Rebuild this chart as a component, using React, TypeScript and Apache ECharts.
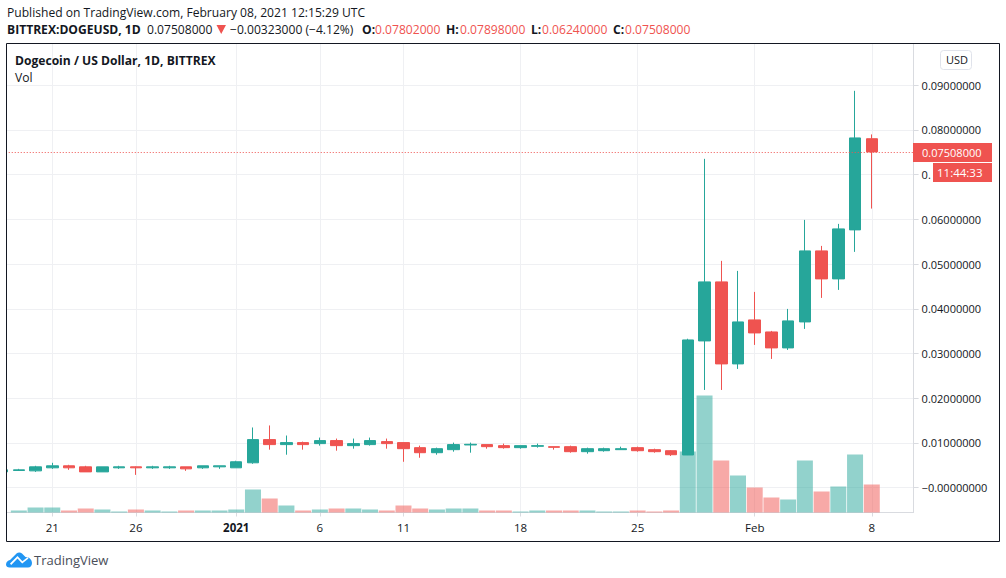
import React, { useEffect, useRef } from "react";
import * as echarts from "echarts";

const FONT = '"Open Sans", sans-serif';
const TEAL = "#26a69a";
const RED = "#ef5350";
const INK = "#131722";

const categories = [
  "Dec 18","Dec 19","Dec 20","Dec 21","Dec 22","Dec 23","Dec 24","Dec 25","Dec 26","Dec 27","Dec 28","Dec 29","Dec 30","Dec 31",
  "Jan 1","Jan 2","Jan 3","Jan 4","Jan 5","Jan 6","Jan 7","Jan 8","Jan 9","Jan 10","Jan 11","Jan 12","Jan 13","Jan 14","Jan 15","Jan 16",
  "Jan 17","Jan 18","Jan 19","Jan 20","Jan 21","Jan 22","Jan 23","Jan 24","Jan 25","Jan 26","Jan 27","Jan 28","Jan 29","Jan 30","Jan 31",
  "Feb 1","Feb 2","Feb 3","Feb 4","Feb 5","Feb 6","Feb 7","Feb 8","Feb 9","Feb 10",
];

const opens = [
  .00353,.00384,.00376,.00444,.00489,.00466,.00353,.00444,.00466,.00444,.00444,.00466,.00444,.00466,
  .00444,.00556,.01075,.00963,.01008,.00985,.01053,.0094,.00963,.0103,.01008,.00895,.00782,.0085,.00955,.00963,
  .0094,.00895,.00925,.00917,.00917,.00805,.00827,.0085,.00895,.0085,.00827,.00731,.03281,.04601,.02767,
  .03751,.03482,.03125,.03706,.05294,.04668,.05764,.07802,
];
const closes = [
  .00399,.00399,.00466,.00489,.00444,.00353,.00466,.00466,.00444,.00466,.00466,.00421,.00489,.00489,
  .00579,.01075,.00963,.01008,.00963,.01053,.0094,.00985,.01053,.00985,.00872,.00782,.00872,.00963,.0097,.00917,
  .00895,.0094,.0094,.00902,.00805,.00872,.00872,.00872,.00827,.00805,.00737,.03303,.04601,.02767,.03706,
  .0346,.03125,.03729,.05294,.04668,.05786,.0782,.07508,
];
const highs = [
  .00421,.00421,.00489,.00556,.00511,.00489,.00466,.00489,.00474,.00489,.00489,.00466,.00489,.00489,
  .00602,.01346,.01391,.01166,.0103,.0112,.01098,.01098,.0112,.01098,.01008,.0094,.00895,.01008,.01008,.00963,
  .00985,.0094,.00985,.00917,.0094,.00895,.00895,.00917,.00917,.00872,.0084,.0333,.07352,.05071,.04847,
  .04377,.03505,.03997,.05987,.05406,.05898,.08873,.07898,
];
const lows = [
  .00353,.00376,.00353,.00421,.00399,.00353,.00353,.00421,.00286,.00421,.00421,.00376,.00421,.00421,
  .00444,.00534,.0085,.00737,.0085,.0094,.00827,.00872,.0094,.00872,.00579,.00669,.00737,.00805,.00782,.00872,
  .00872,.00872,.00895,.0085,.00782,.0076,.00805,.0085,.00805,.00782,.00709,.0073,.02185,.02185,.02655,
  .03192,.02879,.0308,.0355,.04243,.04422,.05272,.0624,
];
const volumes = [
  0,2,5,5,2,4,3,1,3,2,1,2,2,2,
  3,23,14,7,2,3,4,4,3,2,7,4,3,4,4,2,
  2,1,2,2,2,2,1,1,2,1,2,61,117,52,37,
  25,15,13,52,21,26,58,28,
];

const tickLabels: Record<string, string> = {
  "Dec 21": "21", "Dec 26": "26", "Jan 1": "{b|2021}", "Jan 6": "6", "Jan 11": "11",
  "Jan 18": "18", "Jan 25": "25", "Feb 1": "Feb", "Feb 8": "8",
};
const priceTicks = [0, 0.01, 0.02, 0.03, 0.04, 0.05, 0.06, 0.07, 0.08, 0.09];
const lastPrice = 0.07508;

const LOGO_D = "M0 12.5 C0 10 2 8.5 4 8 L10.5 1.5 C12 0 14.5 0 16 1.5 L19.5 5 C23.5 5 26 8 26 11 C26 13.5 24.5 15.5 22 15.5 L3.5 15.5 C1.5 15.5 0 14.5 0 12.5 Z M4 11.5 L5.2 13 L11.5 6.5 L16.2 11.5 L22.5 6.5 L21.5 5.2 L16.4 9.2 L11.5 4 Z";
echarts.graphic.registerShape("tvlogo", echarts.graphic.extendPath(LOGO_D, {}) as any);

const txt = (x: number, y: number, text: string, o: any = {}, z = 100) => ({
  type: "text", x, y, z, silent: true,
  style: { text, fill: INK, font: `12.1px ${FONT}`, verticalAlign: "middle", ...o },
});

export default function App() {
  const ref = useRef<HTMLDivElement>(null);
  useEffect(() => {
    const chart = echarts.init(ref.current!, undefined, { renderer: "svg" });
    const isTick = (_: number, v: string) => v in tickLabels;
    const gridLine = "#eff0f3";
    chart.setOption({
      animation: false,
      backgroundColor: "#ffffff",
      grid: { left: -6.26, top: 44, width: 919.85, height: 468.5, containLabel: false, outerBoundsMode: "none" },
      xAxis: {
        type: "category",
        data: categories,
        boundaryGap: true,
        axisLine: { show: true, onZero: false, lineStyle: { color: "#d9dbe0", width: 1 } },
        axisTick: { show: true, interval: isTick, alignWithLabel: true, length: 4, lineStyle: { color: "#d9dbe0" } },
        splitLine: { show: false },
        axisLabel: {
          show: true, interval: isTick, margin: 9, color: INK, fontSize: 11.5, fontFamily: FONT,
          formatter: (v: string) => tickLabels[v] ?? "",
          rich: { b: { fontWeight: "bold", fontSize: 11.5, fontFamily: FONT, color: INK } },
        },
      },
      yAxis: [
        {
          type: "value", position: "right", min: -0.00555, max: 0.0992, scale: true,
          axisLine: { show: true, lineStyle: { color: "#d9dbe0", width: 1 } },
          axisTick: { show: true, length: 5, customValues: priceTicks, lineStyle: { color: "#d9dbe0" } },
          splitLine: { show: true, lineStyle: { color: gridLine, width: 1 } },
          axisLabel: {
            show: true, customValues: priceTicks, margin: 8, color: INK, fontSize: 11, fontFamily: FONT,
            formatter: (v: number) => (v === 0 ? "\u22120.00000000" : v === 0.07 ? "0." : v.toFixed(8)),
          },
        },
        { type: "value", position: "left", min: 0, max: 468.5, show: false, splitLine: { show: false } },
      ],
      series: [
        {
          type: "line", yAxisIndex: 0, z: 0, silent: true, data: [],
          markLine: {
            silent: true, symbol: "none", animation: false, z: 0,
            label: { show: false },
            lineStyle: { color: gridLine, type: "solid", width: 1 },
            data: Object.keys(tickLabels).map((c) => ({ xAxis: c })),
          },
        },
        {
          type: "bar", yAxisIndex: 1, z: 1, barWidth: 16, silent: true,
          data: volumes.map((v, i) => ({
            value: v,
            itemStyle: { color: closes[i] >= opens[i] ? "rgba(38,166,154,0.5)" : "rgba(239,83,80,0.5)" },
          })),
        },
        {
          type: "candlestick", z: 2, barWidth: 12, silent: true,
          itemStyle: { color: TEAL, color0: RED, borderColor: TEAL, borderColor0: RED, borderWidth: 1 },
          data: opens.map((o, i) => [o, closes[i], lows[i], highs[i]]),
        },
        {
          type: "line", yAxisIndex: 0, z: 3, silent: true, data: [],
          markLine: {
            silent: true, symbol: "none", animation: false, precision: 8,
            label: { show: false },
            lineStyle: { color: RED, type: [1, 2], width: 1 },
            data: [{ yAxis: lastPrice }],
          },
        },
      ],
      graphic: [
        { type: "rect", z: 90, silent: true, shape: { x: 0, y: 40, width: 6, height: 505 }, style: { fill: "#fff" } },
        { type: "rect", z: 99, silent: true, shape: { x: 6.5, y: 43.5, width: 993, height: 498 }, style: { fill: "none", stroke: "#131722", lineWidth: 1 } },
        txt(7, 12, "Published on TradingView.com, February 08, 2021 12:15:29 UTC"),
        txt(7, 29, "BITTREX:DOGEUSD, 1D", { font: `bold 12.1px ${FONT}` }),
        txt(147, 29, "0.07508000"),
        { type: "polygon", z: 100, silent: true, shape: { points: [[216.5, 25], [226, 25], [221.2, 34]] }, style: { fill: RED } },
        txt(230, 29, "\u22120.00323000 (\u22124.12%)"),
        txt(362, 29, "O:", { font: `bold 12.1px ${FONT}` }),
        txt(375, 29, "0.07802000", { fill: RED }),
        txt(446, 29, "H:", { font: `bold 12.1px ${FONT}` }),
        txt(460, 29, "0.07898000", { fill: RED }),
        txt(531, 29, "L:", { font: `bold 12.1px ${FONT}` }),
        txt(542, 29, "0.06240000", { fill: RED }),
        txt(613, 29, "C:", { font: `bold 12.1px ${FONT}` }),
        txt(625, 29, "0.07508000", { fill: RED }),
        txt(15, 60, "Dogecoin / US Dollar, 1D, BITTREX", { font: `bold 12.1px ${FONT}` }),
        txt(15, 77, "Vol"),
        { type: "rect", z: 100, silent: true, shape: { x: 940.5, y: 50.5, width: 31, height: 19, r: 3 }, style: { fill: "#fff", stroke: "#e0e3eb", lineWidth: 1 } },
        txt(946, 59, "USD", { font: `11px ${FONT}` }, 102),
        { type: "rect", z: 100, silent: true, shape: { x: 913, y: 143, width: 79, height: 19 }, style: { fill: RED } },
        txt(922, 152.5, "0.07508000", { fill: "#fff", font: `11px ${FONT}` }, 102),
        { type: "rect", z: 101, silent: true, shape: { x: 933, y: 163, width: 59, height: 19 }, style: { fill: RED } },
        txt(937, 172.5, "11:44:33", { fill: "#fff", font: `11.5px ${FONT}` }, 102),
        txt(34, 560, "TradingView", { fill: "#4a4e59", font: `13px ${FONT}` }),
        { type: "tvlogo", z: 100, silent: true, x: 6, y: 552, scaleX: 1, scaleY: 1, style: { fill: "#2196f3" } },
      ],
    });
    return () => chart.dispose();
  }, []);
  return <div ref={ref} style={{ position: "fixed", left: 0, top: 0, width: 1006, height: 578 }} />;
}
